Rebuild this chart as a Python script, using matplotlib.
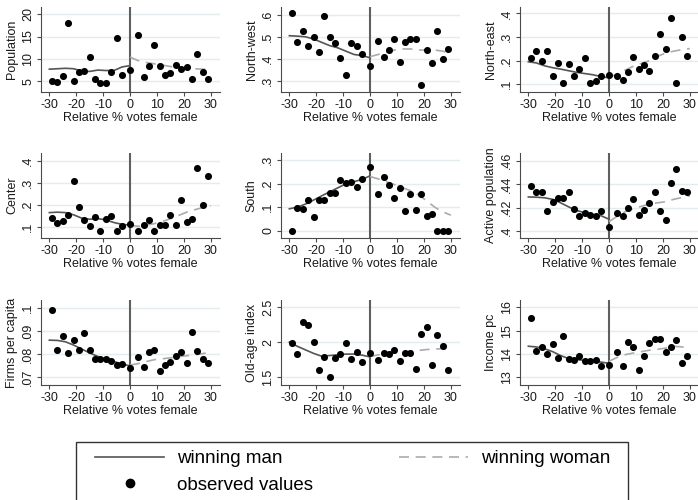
"""
Binned municipal characteristics around the female-vote threshold, 3x3 panel grid.
"""
import matplotlib
matplotlib.use("Agg")
import matplotlib.pyplot as plt
from matplotlib.lines import Line2D
from matplotlib.patches import Rectangle

plt.rcParams["font.family"] = ["Liberation Sans", "DejaVu Sans"]

# bin centres of the running variable
x_bins = [-29, -27, -25, -23, -21, -19, -17, -15, -13, -11, -9, -7, -5, -3, 0,
          3, 5, 7, 9, 11, 13, 15, 17, 19, 21, 23, 25, 27, 29]
# points where the smoothed fits are evaluated on each side
fit_x_man = [-30, -27, -24, -21, -18, -15, -12, -9, -6, -3, 0]
fit_x_woman = [0, 3, 6, 9, 12, 15, 18, 21, 24, 27, 30]

titles = ["Population", "North-west", "North-east",
          "Center", "South", "Active population",
          "Firms per capita", "Old-age index", "Income pc"]

population = [5.0, 4.9, 6.2, 18.0, 5.1, 7.0, 7.4, 10.5, 5.6, 4.6, 4.7, 7.0, 14.6, 6.3,
              7.5,
              15.3, 6.0, 8.5, 13.1, 8.4, 6.3, 6.8, 8.7, 7.8, 8.1, 5.6, 11.2, 7.1, 5.4]
north_west = [0.61, 0.476, 0.527, 0.457, 0.50, 0.429, 0.592, 0.497, 0.472, 0.405, 0.326, 0.472, 0.458, 0.42,
              0.369,
              0.479, 0.407, 0.438, 0.489, 0.388, 0.477, 0.489, 0.489, 0.28, 0.438, 0.38, 0.528, 0.40, 0.446]
north_east = [0.211, 0.24, 0.20, 0.24, 0.133, 0.189, 0.104, 0.186, 0.133, 0.164, 0.211, 0.107, 0.114, 0.133,
              0.14,
              0.133, 0.119, 0.153, 0.214, 0.164, 0.183, 0.157, 0.221, 0.311, 0.25, 0.379, 0.107, 0.30, 0.221]
center = [0.142, 0.118, 0.126, 0.153, 0.307, 0.19, 0.13, 0.105, 0.145, 0.08, 0.135, 0.15, 0.082, 0.105,
          0.112,
          0.08, 0.107, 0.133, 0.082, 0.107, 0.11, 0.156, 0.107, 0.22, 0.123, 0.138, 0.368, 0.20, 0.332]
south = [0.0, 0.095, 0.092, 0.13, 0.057, 0.13, 0.13, 0.161, 0.161, 0.214, 0.203, 0.207, 0.186, 0.219,
         0.269,
         0.156, 0.226, 0.196, 0.141, 0.18, 0.084, 0.156, 0.088, 0.156, 0.062, 0.069, 0.0, 0.0, 0.0]
active_pop = [0.438, 0.433, 0.433, 0.417, 0.425, 0.428, 0.428, 0.433, 0.419, 0.413, 0.415, 0.414, 0.413, 0.417,
              0.403,
              0.415, 0.413, 0.42, 0.427, 0.414, 0.418, 0.424, 0.433, 0.417, 0.409, 0.441, 0.453, 0.434, 0.433]
firms_pc = [0.099, 0.0817, 0.0878, 0.0803, 0.086, 0.0817, 0.0893, 0.0817, 0.0778, 0.0778, 0.0778, 0.077, 0.0753, 0.0756,
            0.0739,
            0.0786, 0.0743, 0.081, 0.0817, 0.0728, 0.0753, 0.0767, 0.0791, 0.081, 0.0763, 0.0896, 0.0814, 0.0777, 0.0763]
old_age = [1.99, 1.83, 2.29, 2.24, 2.0, 1.605, 1.795, 1.50, 1.78, 1.83, 1.986, 1.76, 1.857, 1.714,
           1.843,
           1.75, 1.843, 1.83, 1.89, 1.733, 1.843, 1.843, 1.62, 2.114, 2.214, 1.676, 2.105, 1.94, 1.605]
income_pc = [15.56, 14.14, 14.29, 14.0, 14.43, 13.83, 14.76, 13.79, 13.73, 13.9, 13.71, 13.69, 13.73, 13.47,
             13.51,
             14.09, 13.47, 14.51, 14.3, 13.3, 13.93, 14.47, 14.66, 14.66, 14.09, 14.3, 14.59, 13.61, 13.9]

# smoothed fits, winning man (left of 0) and winning woman (right of 0)
population_man = [7.7, 7.8, 7.9, 7.8, 7.3, 7.2, 7.5, 7.4, 7.4, 8.2, 8.5]
population_woman = [10.4, 9.6, 9.2, 8.9, 8.6, 8.3, 8.1, 7.9, 7.8, 7.7, 7.7]
north_west_man = [0.505, 0.503, 0.50, 0.49, 0.475, 0.46, 0.45, 0.435, 0.42, 0.415, 0.405]
north_west_woman = [0.41, 0.42, 0.43, 0.44, 0.445, 0.445, 0.44, 0.44, 0.44, 0.435, 0.425]
north_east_man = [0.195, 0.19, 0.178, 0.17, 0.164, 0.157, 0.15, 0.145, 0.14, 0.132, 0.127]
north_east_woman = [0.13, 0.143, 0.16, 0.176, 0.188, 0.20, 0.218, 0.232, 0.24, 0.246, 0.251]
center_man = [0.165, 0.167, 0.165, 0.155, 0.14, 0.135, 0.138, 0.132, 0.12, 0.112, 0.108]
center_woman = [0.108, 0.103, 0.108, 0.115, 0.125, 0.137, 0.152, 0.167, 0.178, 0.188, 0.195]
south_man = [0.093, 0.10, 0.113, 0.13, 0.148, 0.165, 0.182, 0.199, 0.208, 0.218, 0.233]
south_woman = [0.23, 0.22, 0.208, 0.196, 0.183, 0.17, 0.152, 0.127, 0.10, 0.08, 0.066]
active_pop_man = [0.429, 0.4288, 0.4283, 0.427, 0.424, 0.4205, 0.4175, 0.4155, 0.414, 0.413, 0.41]
active_pop_woman = [0.408, 0.4125, 0.4165, 0.419, 0.421, 0.423, 0.424, 0.425, 0.427, 0.4285, 0.43]
firms_pc_man = [0.086, 0.0859, 0.0853, 0.0839, 0.0822, 0.0805, 0.079, 0.0778, 0.0768, 0.0758, 0.0749]
firms_pc_woman = [0.0753, 0.0759, 0.0768, 0.0776, 0.078, 0.0784, 0.0789, 0.0793, 0.0797, 0.0802, 0.081]
old_age_man = [2.0, 1.94, 1.89, 1.84, 1.80, 1.81, 1.82, 1.83, 1.83, 1.815, 1.79]
old_age_woman = [1.795, 1.82, 1.835, 1.845, 1.855, 1.868, 1.882, 1.895, 1.90, 1.908, 1.914]
income_pc_man = [14.33, 14.3, 14.22, 14.1, 13.93, 13.8, 13.75, 13.73, 13.7, 13.65, 13.6]
income_pc_woman = [13.69, 13.85, 13.97, 14.04, 14.1, 14.16, 14.2, 14.25, 14.33, 14.3, 14.26]

x_ticks = [-30, -20, -10, 0, 10, 20, 30]
y_ticks = [
    [5, 10, 15, 20],
    [0.3, 0.4, 0.5, 0.6],
    [0.1, 0.2, 0.3, 0.4],
    [0.1, 0.2, 0.3, 0.4],
    [0.0, 0.1, 0.2, 0.3],
    [0.40, 0.42, 0.44, 0.46],
    [0.07, 0.08, 0.09, 0.10],
    [1.5, 2.0, 2.5],
    [13, 14, 15, 16],
]
y_tick_labels = [
    ["5", "10", "15", "20"],
    [".3", ".4", ".5", ".6"],
    [".1", ".2", ".3", ".4"],
    [".1", ".2", ".3", ".4"],
    ["0", ".1", ".2", ".3"],
    [".4", ".42", ".44", ".46"],
    [".07", ".08", ".09", ".1"],
    ["1.5", "2", "2.5"],
    ["13", "14", "15", "16"],
]

observed = [population, north_west, north_east, center, south,
            active_pop, firms_pc, old_age, income_pc]
fits_man = [population_man, north_west_man, north_east_man, center_man, south_man,
            active_pop_man, firms_pc_man, old_age_man, income_pc_man]
fits_woman = [population_woman, north_west_woman, north_east_woman, center_woman, south_woman,
              active_pop_woman, firms_pc_woman, old_age_woman, income_pc_woman]

# layout (pixels on a 698x500 canvas)
W, H = 698, 500
col_left = [41, 281, 520]
panel_w = 179
row_top = [7, 153, 300]
panel_h = 85
y_limits = [(2.6, 21.6), (0.25, 0.635), (0.067, 0.427),
            (0.05, 0.435), (-0.031, 0.33), (0.394, 0.4665),
            (0.0667, 0.1033), (1.39, 2.6), (12.67, 16.31)]

TEXT = "#1a1a1a"
AXIS = "#4a4a4a"
GRID = "#e3ecee"
MAN = "#555555"
WOMAN = "#ababab"

fig = plt.figure(figsize=(W / 100, H / 100), dpi=100)

for i, title in enumerate(titles):
    r, c = divmod(i, 3)
    x0, y0 = col_left[c], row_top[r]
    ax = fig.add_axes([x0 / W, 1 - (y0 + panel_h) / H, panel_w / W, panel_h / H])

    ax.set_xlim(-33.1, 33.4)
    ax.set_ylim(*y_limits[i])
    ax.set_yticks(y_ticks[i])
    ax.set_yticklabels(y_tick_labels[i])
    ax.set_xticks(x_ticks)
    ax.set_xticklabels([str(t) for t in x_ticks])

    ax.grid(True, axis="y", color=GRID, linewidth=1.0)
    ax.set_axisbelow(True)
    for side in ("top", "right"):
        ax.spines[side].set_visible(False)
    for side in ("left", "bottom"):
        ax.spines[side].set_color(AXIS)
        ax.spines[side].set_linewidth(0.8)

    ax.tick_params(direction="out", length=3, width=0.8, color=AXIS,
                   labelsize=9, labelcolor=TEXT, pad=2)
    for lab in ax.get_yticklabels():
        lab.set_rotation(90)
        lab.set_va("center")

    ax.axvline(0, color="#5f5f5f", linewidth=1.5, zorder=2)
    ax.plot(fit_x_man, fits_man[i], color=MAN, linewidth=1.2, zorder=3)
    ax.plot(fit_x_woman, fits_woman[i], color=WOMAN, linewidth=1.2,
            dashes=(6, 4), zorder=3)
    ax.scatter(x_bins, observed[i], s=26, color="black", zorder=4,
               linewidths=0)

    ax.set_xlabel("Relative % votes female", fontsize=9, color=TEXT, labelpad=1)
    ax.set_ylabel(title, fontsize=9, color=TEXT, labelpad=3)

# legend, with its frame running past the bottom edge
handles = [
    Line2D([], [], color=MAN, linewidth=1.2),
    Line2D([], [], color="black", marker="o", markersize=6, linestyle="none"),
    Line2D([], [], color=WOMAN, linewidth=1.2, dashes=(6, 4)),
]
labels = ["winning man", "observed values", "winning woman"]
fig.legend(handles, labels, ncol=2, loc="upper left", mode="expand",
           bbox_to_anchor=(95 / W, 0.0, 515 / W, 1 - 450 / H),
           frameon=False, borderpad=0, borderaxespad=0,
           fontsize=13.5, handlelength=3.7, handletextpad=0.65,
           labelspacing=0.5, numpoints=1)
fig.patches.append(Rectangle((76 / W, -0.1), 552 / W, 0.1 + (500 - 442) / H,
                             transform=fig.transFigure, fill=False,
                             edgecolor="#333333", linewidth=1.0, clip_on=False))

fig.savefig("out.png", dpi=100)
